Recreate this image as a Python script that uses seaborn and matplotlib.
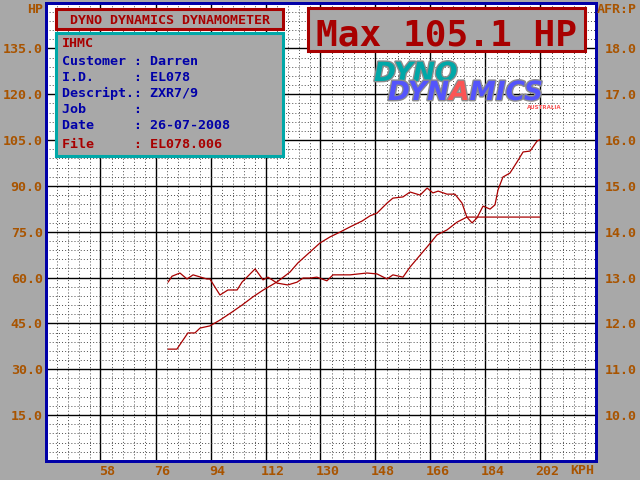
import numpy as np
import pandas as pd
import matplotlib
matplotlib.use("Agg")
import matplotlib.pyplot as plt
import seaborn as sns
from matplotlib.patches import Rectangle
from matplotlib.transforms import ScaledTranslation
import matplotlib.patheffects as pe

# ---------------- data ----------------
power_kph = [80.1, 83.0, 86.6, 88.9, 90.6, 93.8, 97.1, 101.0, 104.3, 107.9, 111.2, 115.8,
             120.0, 122.6, 126.6, 129.8, 133.1, 136.4, 139.7, 143.6, 146.2, 148.5, 151.8,
             153.7, 157.0, 159.3, 162.6, 164.9, 166.8, 168.5, 171.4, 174.0, 176.3, 177.9,
             179.6, 181.2, 183.2, 185.5, 187.1, 188.1, 189.7, 192.0, 194.3, 196.3, 198.6,
             200.9, 201.8]
power_hp = [36.6, 36.6, 41.9, 41.9, 43.5, 44.2, 46.1, 48.7, 51.0, 53.7, 55.9, 58.6,
            61.8, 64.8, 68.4, 71.3, 73.3, 74.9, 76.6, 78.5, 80.2, 81.1, 84.4,
            86.0, 86.4, 88.0, 87.0, 89.3, 87.7, 88.3, 87.3, 87.3, 84.4, 79.8,
            77.9, 79.5, 83.4, 82.4, 83.8, 88.7, 92.9, 94.2, 97.8, 101.1, 101.4,
            104.7, 105.1]

afr_kph = [80.1, 81.4, 84.0, 86.3, 88.3, 92.8, 93.8, 97.1, 99.7, 102.7, 104.3, 108.6,
           111.2, 112.8, 115.8, 119.3, 122.3, 124.3, 126.6, 128.8, 132.1, 134.1, 139.7,
           145.2, 148.5, 151.8, 153.7, 157.0, 159.3, 162.6, 164.9, 168.1, 171.4, 174.7,
           177.9, 181.2, 201.8]
afr_val = [12.90, 13.03, 13.10, 12.97, 13.06, 12.97, 12.97, 12.62, 12.73, 12.73, 12.90, 13.19,
           12.95, 13.01, 12.88, 12.84, 12.90, 12.99, 12.99, 13.01, 12.93, 13.06, 13.06,
           13.10, 13.08, 12.97, 13.06, 13.01, 13.23, 13.49, 13.67, 13.93, 14.04, 14.21,
           14.32, 14.32, 14.32]

x_ticks = [58, 76, 94, 112, 130, 148, 166, 184, 202]
hp_ticks = [15, 30, 45, 60, 75, 90, 105, 120, 135]
afr_ticks = [10, 11, 12, 13, 14, 15, 16, 17, 18]

title_text = "DYNO DYNAMICS DYNAMOMETER"
max_text = "Max 105.1 HP"
shop_name = "IHMC"
info_labels = ["Customer", "I.D.", "Descript.", "Job", "Date", "File"]
info_values = ["Darren", "EL078", "ZXR7/9", "", "26-07-2008", "EL078.006"]

# ---------------- style ----------------
GRAY = "#A8A8A8"
BROWN = "#A85400"
BLUE = "#0000A8"
RED = "#A80000"
CYAN = "#00A8A8"
LBLUE = "#5454FC"
LRED = "#FC5454"

sns.set_style("white")
plt.rcParams["font.family"] = ["DejaVu Sans Mono", "DejaVu Sans"]

W, H = 640, 480
fig = plt.figure(figsize=(6.4, 4.8), dpi=100, facecolor=GRAY)


def fx(px):
    return px / W


def fy(py):
    return 1 - py / H


ax = fig.add_axes([fx(45.5), fy(461), 550 / W, 458.5 / H])
ax.set_facecolor("white")
ax.set_xlim(40, 220)
ax.set_ylim(0, 150)
ax2 = ax.twinx()
ax2.set_ylim(9, 19)

df_p = pd.DataFrame({"kph": power_kph, "hp": power_hp})
df_a = pd.DataFrame({"kph": afr_kph, "afr": afr_val})
sns.lineplot(data=df_p, x="kph", y="hp", ax=ax, color=RED, lw=0.9,
             estimator=None, sort=False, zorder=5)
sns.lineplot(data=df_a, x="kph", y="afr", ax=ax2, color=RED, lw=0.9,
             estimator=None, sort=False, zorder=5)
ax.set_xlabel("")
ax.set_ylabel("")
ax2.set_ylabel("")

# ticks and grid
ax.set_xticks(x_ticks, labels=[str(v) for v in x_ticks])
ax.set_yticks(hp_ticks, labels=[f"{v:.1f}" for v in hp_ticks])
ax2.set_yticks(afr_ticks, labels=[f"{v:.1f}" for v in afr_ticks])
ax.set_xticks(np.arange(40, 220.01, 3.6), minor=True)
ax.set_yticks(np.arange(0, 150.01, 3), minor=True)
ax.set_axisbelow(True)
ax.grid(which="minor", color="#4a4a4a", lw=0.7, ls=(0, (1, 2.2)))
ax.grid(which="major", color="black", lw=1.0, ls="-")
ax2.grid(False)

tick_font = dict(family="DejaVu Sans Mono", weight="bold", size=9.6)
ax.tick_params(axis="both", which="both", length=0, labelcolor=BROWN)
ax.tick_params(axis="x", pad=3)
ax.tick_params(axis="y", pad=2)
ax2.tick_params(axis="y", which="both", length=0, labelcolor=BROWN, pad=7)
for lab in ax.get_xticklabels() + ax.get_yticklabels() + ax2.get_yticklabels():
    lab.set_fontproperties(tick_font)
for lab in ax.get_xticklabels():
    lab.set_transform(lab.get_transform() + ScaledTranslation(0.07, 0, fig.dpi_scale_trans))

for a in (ax, ax2):
    for s in a.spines.values():
        s.set_color(BLUE)
        s.set_linewidth(2.0)
        s.set_visible(True)

# axis unit labels
txt_kw = dict(family="DejaVu Sans Mono", weight="bold", size=9.6)
fig.text(fx(43), fy(13), "HP", color=BROWN, ha="right", va="baseline", **txt_kw)
fig.text(fx(597), fy(13), "AFR:P", color=BROWN, ha="left", va="baseline", **txt_kw)
fig.text(fx(570), fy(474), "KPH", color=BROWN, ha="left", va="baseline", **txt_kw)


def box(x0, y0, x1, y1, edge):
    r = Rectangle((fx(x0), fy(y1)), (x1 - x0) / W, (y1 - y0) / H,
                  transform=fig.transFigure, facecolor=GRAY, edgecolor=edge,
                  lw=2.2, zorder=3)
    fig.add_artist(r)


# title box
box(56, 9, 283, 29, RED)
fig.text(fx(169.5), fy(24), title_text, color=RED, ha="center", va="baseline",
         zorder=4, **txt_kw)

# info box
box(56, 33, 283, 156, CYAN)
fig.text(fx(62), fy(47), shop_name, color=RED, ha="left", va="baseline", zorder=4, **txt_kw)
baselines = [65, 81, 97, 113, 129, 148]
for lab, val, yb in zip(info_labels, info_values, baselines):
    col = RED if lab == "File" else BLUE
    s = f"{lab:<9}: {val}".rstrip()
    fig.text(fx(62), fy(yb), s, color=col, ha="left", va="baseline", zorder=4, **txt_kw)

# max box
box(308, 8, 585, 51, RED)
fig.text(fx(447), fy(45), max_text, color=RED, ha="center", va="baseline", zorder=4,
         family="DejaVu Sans Mono", weight="bold", size=26)

# logo
logo_kw = dict(family="DejaVu Sans", weight="heavy", style="italic", size=19, zorder=4,
               path_effects=[pe.withStroke(linewidth=2.0, foreground="#8C8C8C")])
fig.text(fx(374), fy(81), "DYNO", color=CYAN, ha="left", va="baseline", **logo_kw)
t1 = fig.text(fx(388), fy(100), "DYN", color=LBLUE, ha="left", va="baseline", **logo_kw)
t2 = plt.annotate("A", xy=(1, 0), xycoords=t1, ha="left", va="bottom",
                  color=LRED, annotation_clip=False, **logo_kw)
t3 = plt.annotate("MICS", xy=(1, 0), xycoords=t2, ha="left", va="bottom",
                  color=LBLUE, annotation_clip=False, **logo_kw)
fig.text(fx(527), fy(109), "AUSTRALIA", color=LRED, ha="left", va="baseline",
         family="DejaVu Sans", weight="bold", size=4, zorder=4)

fig.savefig("out.png", dpi=100, facecolor=GRAY)
